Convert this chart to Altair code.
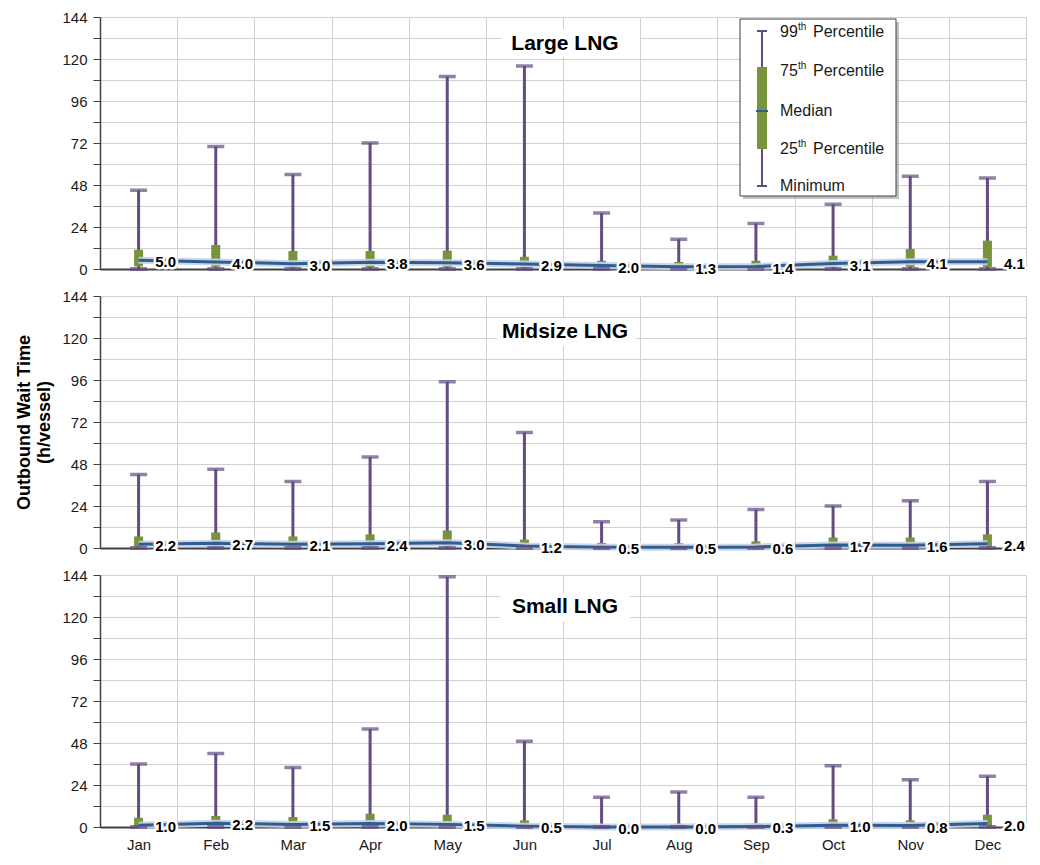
import altair as alt
import pandas as pd

months = ["Jan", "Feb", "Mar", "Apr", "May", "Jun", "Jul", "Aug", "Sep", "Oct", "Nov", "Dec"]
y_ticks = [0, 12, 24, 36, 48, 60, 72, 84, 96, 108, 120, 132, 144]

# Large LNG
large_p99 = [45, 70, 54, 72, 110, 116, 32, 17, 26, 37, 53, 52]
large_p75 = [11.0, 13.7, 10.3, 10.3, 10.5, 7.0, 4.7, 4.0, 4.7, 7.6, 11.4, 16.2]
large_median = [5.0, 4.0, 3.0, 3.8, 3.6, 2.9, 2.0, 1.3, 1.4, 3.1, 4.1, 4.1]
large_p25 = [1.5, 1.2, 0.9, 1.1, 1.1, 0.9, 0.6, 0.4, 0.4, 0.9, 1.2, 1.2]
large_min = [0, 0, 0, 0, 0, 0, 0, 0, 0, 0, 0, 0]

# Midsize LNG
mid_p99 = [42, 45, 38, 52, 95, 66, 15, 16, 22, 24, 27, 38]
mid_p75 = [6.6, 8.9, 6.6, 7.8, 10.0, 4.8, 2.9, 2.7, 3.8, 6.0, 6.0, 7.8]
mid_median = [2.2, 2.7, 2.1, 2.4, 3.0, 1.2, 0.5, 0.5, 0.6, 1.7, 1.6, 2.4]
mid_p25 = [0.7, 0.8, 0.6, 0.7, 0.9, 0.3, 0.1, 0.1, 0.2, 0.5, 0.5, 0.7]
mid_min = [0, 0, 0, 0, 0, 0, 0, 0, 0, 0, 0, 0]

# Small LNG
small_p99 = [36, 42, 34, 56, 143, 49, 17, 20, 17, 35, 27, 29]
small_p75 = [5.3, 6.3, 5.7, 7.6, 7.0, 3.8, 0.5, 1.9, 2.3, 4.4, 3.8, 7.0]
small_median = [1.0, 2.2, 1.5, 2.0, 1.5, 0.5, 0.0, 0.0, 0.3, 1.0, 0.8, 2.0]
small_p25 = [0.3, 0.6, 0.4, 0.5, 0.4, 0.1, 0.0, 0.0, 0.1, 0.3, 0.2, 0.5]
small_min = [0, 0, 0, 0, 0, 0, 0, 0, 0, 0, 0, 0]

# legend texts
legend_main = ["99", "75", "Median", "25", "Minimum"]
legend_sup = ["th", "th", "", "th", ""]
legend_rest = ["Percentile", "Percentile", "", "Percentile", ""]

PURPLE = "#634C82"
GREEN = "#77933C"
BLUE = "#2F5D93"
GLOW = "#C5D2E4"
GRID = "#D0D0D0"
DARK = "#404040"
FONT = "Liberation Sans"

W, H = 926, 252
one = pd.DataFrame({"k": [0]})


def deco_rect(x1, x2, y1, y2, **kw):
    return alt.Chart(one).mark_rect(**kw).encode(
        x=alt.value(x1), x2=alt.value(x2), y=alt.value(y1), y2=alt.value(y2))


def deco_rule(x1, x2, y1, y2, **kw):
    return alt.Chart(one).mark_rule(**kw).encode(
        x=alt.value(x1), x2=alt.value(x2), y=alt.value(y1), y2=alt.value(y2))


def deco_text(x, y, text, **kw):
    return alt.Chart(one).mark_text(**kw).encode(
        x=alt.value(x), y=alt.value(y), text=alt.value(text))


def legend_layers():
    layers = [
        deco_rect(643, 799, 5, 182, color="#9A9A9A", opacity=0.6),
        deco_rect(640, 796, 2, 179, color="white", stroke=DARK, strokeWidth=1),
        deco_rule(662, 662, 14, 169, color=PURPLE, strokeWidth=2),
        deco_rule(657, 667, 14, 14, color=PURPLE, strokeWidth=2),
        deco_rule(657, 667, 169, 169, color=PURPLE, strokeWidth=2),
        deco_rect(657, 667, 50, 132, color=GREEN),
        deco_rule(656, 668, 94, 94, color=BLUE, strokeWidth=2),
    ]
    ys = [15, 54, 94, 132, 169]
    for m, s, r, yy in zip(legend_main, legend_sup, legend_rest, ys):
        layers.append(deco_text(680, yy, m, align="left", baseline="middle",
                                fontSize=16, font=FONT, color="#1a1a1a"))
        if s:
            layers.append(deco_text(698, yy - 5, s, align="left", baseline="middle",
                                    fontSize=10, font=FONT, color="#1a1a1a"))
        if r:
            layers.append(deco_text(713, yy, r, align="left", baseline="middle",
                                    fontSize=16, font=FONT, color="#1a1a1a"))
    return layers


def panel(name, p99, p75, p25, med, mn, title_y, bg, x_labels, y_title, legend):
    df = pd.DataFrame({"month": months, "p99": p99, "p75": p75, "p25": p25,
                       "median": med, "minimum": mn})
    base = alt.Chart(df)
    x_axis = alt.Axis(tickBand="extent", grid=True, gridColor=GRID, ticks=False,
                      labels=x_labels, domainColor=DARK, domainWidth=2,
                      labelFontSize=15, labelPadding=10, labelAngle=0,
                      labelColor="#1a1a1a", labelFont=FONT)
    x = alt.X("month:N", sort=months, scale=alt.Scale(paddingInner=0, paddingOuter=0),
              axis=x_axis, title=None)
    yscale = alt.Scale(domain=[0, 144], nice=False)
    y_axis = alt.Axis(values=y_ticks, labelExpr="datum.value % 24 == 0 ? datum.label : ''",
                      grid=True, gridColor=GRID, tickSize=7, tickColor=DARK,
                      domainColor=DARK, domainWidth=1.5, labelFontSize=15,
                      labelPadding=6, labelColor="#1a1a1a", labelFont=FONT,
                      titleFontSize=18, titleFontWeight="bold", titlePadding=8,
                      titleFont=FONT, titleColor="#000000", titleLineHeight=20)

    def Y(field):
        return alt.Y(f"{field}:Q", scale=yscale, axis=y_axis, title=y_title)

    whisker = base.mark_rule(color=PURPLE, strokeWidth=3).encode(x=x, y=Y("minimum"), y2="p99")
    box = base.mark_bar(color=GREEN, size=9).encode(x=x, y=Y("p25"), y2="p75")
    glow = base.mark_line(color=GLOW, strokeWidth=7, opacity=0.9).encode(x=x, y=Y("median"))
    line = base.mark_line(color=BLUE, strokeWidth=3).encode(x=x, y=Y("median"))
    cap_top = base.mark_tick(color=PURPLE, thickness=3.5, size=17).encode(x=x, y=Y("p99"))
    cap_bot = base.mark_tick(color=PURPLE, thickness=4, size=17).encode(x=x, y=Y("minimum"))
    txt = alt.Text("median:Q", format=".1f")
    halo = base.mark_text(dx=27, dy=2, fontSize=15, fontWeight="bold", font=FONT,
                          color="white", stroke="white", strokeWidth=5,
                          strokeJoin="round").encode(x=x, y=Y("median"), text=txt)
    label = base.mark_text(dx=27, dy=2, fontSize=15, fontWeight="bold", font=FONT,
                           color="#000000").encode(x=x, y=Y("median"), text=txt)
    tbg = deco_rect(bg[0], bg[1], bg[2], bg[3], color="white")
    ttl = deco_text(465, title_y, name, fontSize=21, fontWeight="bold", font=FONT,
                    color="#000000", baseline="middle", align="center")
    layers = [whisker, box, glow, line, cap_top, cap_bot, halo, label, tbg, ttl]
    if legend:
        layers += legend_layers()
    return alt.layer(*layers).properties(width=W, height=H)


top = panel("Large LNG", large_p99, large_p75, large_p25, large_median, large_min,
            27, (402, 540, 12, 40), False, None, True)
mid = panel("Midsize LNG", mid_p99, mid_p75, mid_p25, mid_median, mid_min,
            36, (397, 536, 22, 50), False, ["Outbound Wait Time", "(h/vessel)"], False)
bot = panel("Small LNG", small_p99, small_p75, small_p25, small_median, small_min,
            32, (400, 530, 18, 46), True, None, False)

chart = alt.vconcat(top, mid, bot, spacing=27, bounds="flush").properties(
    padding={"left": 15, "top": 9, "right": 5, "bottom": 5}
).configure_view(stroke="#595959", strokeWidth=1.5).configure(font=FONT)

chart.save("out.html", embed_options={"renderer": "svg", "actions": False})
